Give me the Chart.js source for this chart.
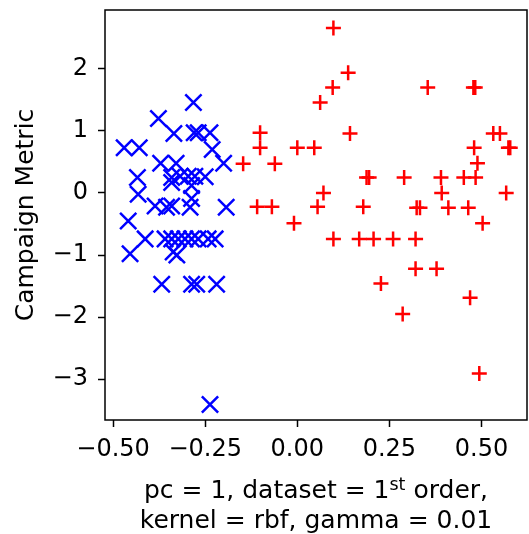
<!DOCTYPE html>
<html>
<head>
<meta charset="utf-8">
<script src="https://cdn.jsdelivr.net/npm/chart.js@4.4.1/dist/chart.umd.min.js"></script>
<style>
  html, body { margin: 0; padding: 0; background: #fff; }
  canvas { display: block; }
</style>
</head>
<body>
<canvas id="grafico" width="529" height="534"></canvas>
<script>
// Datos
const blueX = [-0.282, -0.377, -0.335, -0.280, -0.269, -0.237, -0.231, -0.470, -0.429, -0.371,
               -0.329, -0.200, -0.434, -0.432, -0.341, -0.318, -0.296, -0.278, -0.250, -0.341,
               -0.287, -0.287, -0.386, -0.341, -0.355, -0.291, -0.193, -0.459, -0.413, -0.454,
               -0.359, -0.341, -0.323, -0.305, -0.287, -0.269, -0.242, -0.223, -0.337, -0.327,
               -0.368, -0.287, -0.273, -0.219, -0.237];
const blueY = [1.46, 1.20, 0.96, 0.97, 0.97, 0.97, 0.70, 0.73, 0.73, 0.48,
               0.48, 0.48, 0.25, -0.02, 0.25, 0.27, 0.27, 0.27, 0.26, 0.17,
               0.12, -0.09, -0.21, -0.21, -0.23, -0.23, -0.23, -0.45, -0.74, -0.98,
               -0.74, -0.74, -0.74, -0.74, -0.74, -0.74, -0.74, -0.74, -0.95, -1.00,
               -1.47, -1.47, -1.47, -1.47, -3.41];

const redX = [0.098, 0.138, 0.096, 0.062, -0.101, 0.143, -0.101, 0.000, 0.046, -0.147,
              -0.061, 0.188, 0.195, 0.071, -0.109, -0.069, 0.055, 0.179, -0.009, 0.098,
              0.168, 0.207, 0.260, 0.321, 0.354, 0.478, 0.483, 0.532, 0.550, 0.480,
              0.573, 0.578, 0.489, 0.290, 0.390, 0.452, 0.484, 0.392, 0.567, 0.324,
              0.333, 0.410, 0.464, 0.503, 0.321, 0.378, 0.227, 0.469, 0.286, 0.494];
const redY = [2.66, 1.94, 1.70, 1.46, 0.97, 0.96, 0.73, 0.73, 0.73, 0.47,
              0.47, 0.25, 0.25, 0.00, -0.22, -0.22, -0.22, -0.22, -0.49, -0.74,
              -0.74, -0.74, -0.74, -0.74, 1.70, 1.70, 1.70, 0.96, 0.96, 0.73,
              0.73, 0.73, 0.48, 0.25, 0.25, 0.25, 0.25, 0.00, 0.00, -0.24,
              -0.24, -0.24, -0.24, -0.49, -1.22, -1.22, -1.46, -1.69, -1.95, -2.91];

const xTicks      = [-0.5, -0.25, 0, 0.25, 0.5];
const xTickLabels = ['\u22120.50', '\u22120.25', '0.00', '0.25', '0.50'];
const yTicks      = [-3, -2, -1, 0, 1, 2];
const yTickLabels = ['\u22123', '\u22122', '\u22121', '0', '1', '2'];

const tituloY  = 'Campaign Metric';
const tituloX1 = ['pc = 1, dataset = 1', 'st', ' order,'];
const tituloX2 = 'kernel = rbf, gamma = 0.01';

const fuente = 'DejaVu Sans';

// Marco completo y título del eje X (con superíndice)
const marcoYTitulo = {
    id: 'marcoYTitulo',
    afterDraw(chart){
        const ctx = chart.ctx;
        const a = chart.chartArea;
        ctx.save();
        ctx.strokeStyle = '#000';
        ctx.lineWidth = 1.5;
        ctx.strokeRect(a.left, a.top, a.right - a.left, a.bottom - a.top);

        const cx = (a.left + a.right) / 2;
        ctx.fillStyle = '#000';
        ctx.textBaseline = 'alphabetic';
        ctx.textAlign = 'left';
        const fGrande = '25px "' + fuente + '"';
        const fPeque  = '17.5px "' + fuente + '"';
        ctx.font = fGrande;
        const w1 = ctx.measureText(tituloX1[0]).width;
        const w3 = ctx.measureText(tituloX1[2]).width;
        ctx.font = fPeque;
        const w2 = ctx.measureText(tituloX1[1]).width;
        let x = cx - (w1 + w2 + w3) / 2;
        const base1 = 498;
        ctx.font = fGrande;
        ctx.fillText(tituloX1[0], x, base1);
        x += w1;
        ctx.font = fPeque;
        ctx.fillText(tituloX1[1], x, base1 - 8);
        x += w2;
        ctx.font = fGrande;
        ctx.fillText(tituloX1[2], x, base1);

        ctx.textAlign = 'center';
        ctx.fillText(tituloX2, cx, 528);
        ctx.restore();
    }
};

new Chart(document.getElementById('grafico'), {
    type: 'scatter',
    data: {
        datasets: [{
            label: 'clase 0',
            data: blueX.map((x, i) => ({ x: x, y: blueY[i] })),
            pointStyle: 'crossRot',
            radius: 11.5,
            borderColor: '#0000ff',
            backgroundColor: '#0000ff',
            borderWidth: 2.5
        }, {
            label: 'clase 1',
            data: redX.map((x, i) => ({ x: x, y: redY[i] })),
            pointStyle: 'cross',
            radius: 7.5,
            borderColor: '#ff0000',
            backgroundColor: '#ff0000',
            borderWidth: 2.5
        }]
    },
    options: {
        responsive: false,
        animation: false,
        events: [],
        layout: { autoPadding: false, padding: { left: 0, right: 2, top: 10, bottom: 0 } },
        plugins: {
            legend:  { display: false },
            tooltip: { enabled: false }
        },
        scales: {
            x: {
                type: 'linear',
                min: -0.522,
                max: 0.6235,
                afterBuildTicks: s => { s.ticks = xTicks.map(v => ({ value: v })); },
                afterFit: s => {
                    s.height = 114;
                    s.paddingLeft = 0; s.paddingRight = 0;
                },
                border: { display: false },
                grid: { drawOnChartArea: false, drawTicks: true, tickLength: 7, tickColor: '#000', tickWidth: 1.5 },
                ticks: {
                    color: '#000',
                    font: { family: fuente, size: 24 },
                    padding: 8,
                    maxRotation: 0,
                    autoSkip: false,
                    callback: (v, i) => xTickLabels[i]
                }
            },
            y: {
                type: 'linear',
                min: -3.66,
                max: 2.95,
                afterBuildTicks: s => { s.ticks = yTicks.map(v => ({ value: v })); },
                afterFit: s => {
                    s.width = 105;
                    s.paddingTop = 0; s.paddingBottom = 0;
                },
                border: { display: false },
                grid: { drawOnChartArea: false, drawTicks: true, tickLength: 7, tickColor: '#000', tickWidth: 1.5 },
                ticks: {
                    color: '#000',
                    font: { family: fuente, size: 24 },
                    padding: 10,
                    autoSkip: false,
                    callback: (v, i) => yTickLabels[i]
                },
                title: {
                    display: true,
                    text: tituloY,
                    color: '#000',
                    font: { family: fuente, size: 25 },
                    padding: { top: 11, bottom: 0 }
                }
            }
        }
    },
    plugins: [marcoYTitulo]
});
</script>
</body>
</html>
